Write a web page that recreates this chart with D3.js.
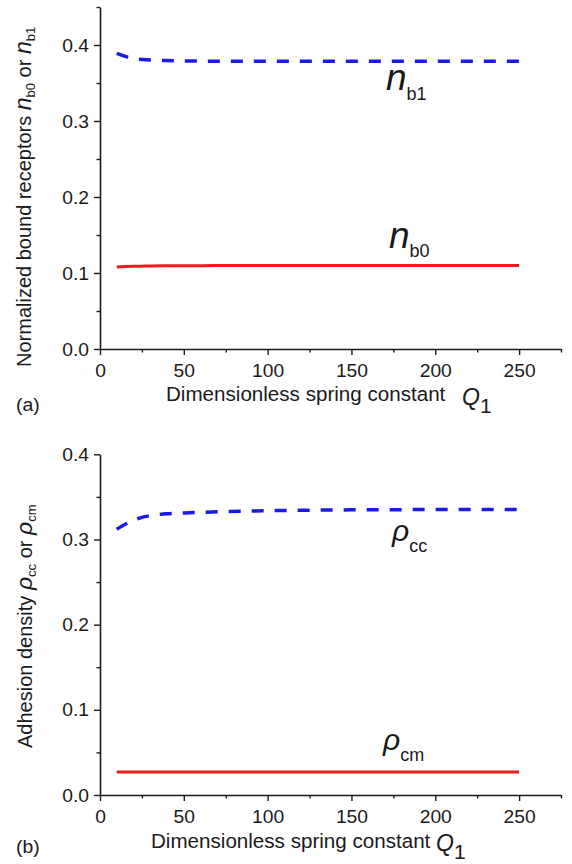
<!DOCTYPE html>
<html>
<head>
<meta charset="utf-8">
<script src="https://cdn.jsdelivr.net/npm/d3@7/dist/d3.min.js"></script>
<style>
  html, body { margin: 0; padding: 0; background: #fff; }
  svg { display: block; }
  text { fill: #1a1a1a; }
</style>
</head>
<body>
<svg id="chart" width="572" height="864"></svg>
<script>
// Dimensionless spring constant Q1 at which the model was evaluated
const springQ = [10, 15, 20, 25, 30, 40, 50, 60, 75, 100, 125, 150, 175, 200, 225, 250];

// (a) normalized bound receptors
const nb1 = [0.389, 0.385, 0.382, 0.381, 0.3802, 0.3795, 0.379, 0.3788, 0.3786, 0.3785, 0.3785, 0.3785, 0.3785, 0.3785, 0.3785, 0.3785];
const nb0 = [0.108, 0.1085, 0.1088, 0.109, 0.1092, 0.1094, 0.1095, 0.1096, 0.1098, 0.1099, 0.11, 0.11, 0.11, 0.11, 0.11, 0.11];

// (b) adhesion density
const rhoCC = [0.312, 0.3178, 0.3225, 0.326, 0.328, 0.3302, 0.3311, 0.3318, 0.3328, 0.3338, 0.3344, 0.3348, 0.335, 0.3352, 0.3353, 0.3353];
const rhoCM = [0.027, 0.027, 0.027, 0.027, 0.027, 0.027, 0.027, 0.027, 0.027, 0.027, 0.027, 0.027, 0.027, 0.027, 0.027, 0.027];

// axis ticks
const xMajor = [0, 50, 100, 150, 200, 250];
const xMinor = [25, 75, 125, 175, 225, 275];
const yMajor = [0, 0.1, 0.2, 0.3, 0.4];
const yMinorA = [0.05, 0.15, 0.25, 0.35, 0.45];
const yMinorB = [0.05, 0.15, 0.25, 0.35];

const FONT = "Arial, 'Liberation Sans', Helvetica, sans-serif";
const TICK_SX = 1.1;      // slight horizontal stretch of the tick lettering
const BLUE = "#1a1ae6";
const RED = "#ee1c1c";
const INK = "#1a1a1a";

const svg = d3.select("#chart");

// rich text: an array of runs {t, size, italic, dy}
function richText(parent, x, y, runs, opts = {}) {
  const sx = opts.sx == null ? 1 : opts.sx;
  let tf = `translate(${x},${y}) scale(${sx},1)`;
  if (opts.rotate) tf += ` rotate(${opts.rotate})`;
  const g = parent.append("g").attr("transform", tf);
  const t = g.append("text")
    .attr("font-family", FONT)
    .attr("text-anchor", opts.anchor || "start");
  let shift = 0;
  runs.forEach(r => {
    const dy = (r.dy || 0) - shift;
    shift = r.dy || 0;
    t.append("tspan")
      .attr("dy", dy)
      .attr("font-size", r.size)
      .attr("font-style", r.italic ? "italic" : "normal")
      .text(r.t);
  });
  return g;
}

function panel(cfg) {
  const x = d3.scaleLinear().domain([0, 275]).range([100, 561]);
  const y = d3.scaleLinear().domain([0, cfg.yTop]).range(cfg.yRange);
  const g = svg.append("g");

  // minor ticks
  g.append("g").attr("transform", `translate(0,${y(0)})`)
    .call(d3.axisBottom(x).tickValues(xMinor).tickSize(3.5).tickSizeOuter(0).tickFormat(""))
    .call(a => a.select(".domain").remove());
  g.append("g").attr("transform", `translate(${x(0)},0)`)
    .call(d3.axisLeft(y).tickValues(cfg.yMinor).tickSize(3.5).tickSizeOuter(0).tickFormat(""))
    .call(a => a.select(".domain").remove());

  // major ticks + labels
  const xa = g.append("g").attr("transform", `translate(0,${y(0)})`)
    .call(d3.axisBottom(x).tickValues(xMajor).tickSize(6).tickSizeOuter(0).tickFormat(d3.format("d")));
  xa.selectAll("text").attr("y", 0).attr("dy", 0)
    .attr("transform", `translate(0,28) scale(${TICK_SX},1)`);
  const ya = g.append("g").attr("transform", `translate(${x(0)},0)`)
    .call(d3.axisLeft(y).tickValues(yMajor).tickSize(6).tickSizeOuter(0).tickFormat(d3.format(".1f")));
  ya.selectAll("text").attr("x", 0).attr("dy", 0)
    .attr("transform", `translate(-11,6) scale(${TICK_SX},1)`);

  g.selectAll(".tick text").attr("font-size", 17.5).attr("font-family", FONT).attr("fill", INK);
  g.selectAll(".tick line").attr("stroke", INK).attr("stroke-width", 1.4);
  g.selectAll(".domain").attr("stroke", INK).attr("stroke-width", 1.6);

  // curves
  const line = vals => d3.line()
    .x((d, i) => x(springQ[i]))
    .y(d => y(d))
    .curve(d3.curveMonotoneX)(vals);
  g.append("path").attr("d", line(cfg.solid))
    .attr("fill", "none").attr("stroke", RED).attr("stroke-width", 3);
  g.append("path").attr("d", line(cfg.dashed))
    .attr("fill", "none").attr("stroke", BLUE).attr("stroke-width", 3.5)
    .attr("stroke-dasharray", "12,11");

  // curve labels
  cfg.labels.forEach(l => {
    richText(g, l.x, l.y, [
      { t: l.sym, size: l.symSize, italic: true },
      { t: l.sub, size: 18, dy: l.subDy }
    ]);
  });

  // x-axis title with the Q1 symbol
  richText(g, cfg.xTitle[0], cfg.xTitle[1],
    [{ t: "Dimensionless spring constant", size: 20 }], { sx: 1.03 });
  richText(g, cfg.qPos[0], cfg.qPos[1], [
    { t: "Q", size: 23, italic: true },
    { t: "1", size: 21, dy: 8 }
  ]);

  // y-axis title (reads bottom to top)
  richText(g, cfg.yTitle[0], cfg.yTitle[1], cfg.yRuns, { rotate: -90 });

  // panel letter
  richText(g, 16, cfg.letterY, [{ t: cfg.letter, size: 18.5 }], { sx: 1.05 });
}

panel({
  yTop: 0.45, yRange: [349, 7], yMinor: yMinorA,
  solid: nb0, dashed: nb1,
  labels: [
    { sym: "n", sub: "b1", x: 386, y: 90, symSize: 37, subDy: 10 },
    { sym: "n", sub: "b0", x: 389, y: 248, symSize: 37, subDy: 9 }
  ],
  xTitle: [166, 401], qPos: [462, 405],
  yTitle: [31, 367],
  yRuns: [
    { t: "Normalized bound receptors ", size: 20 },
    { t: "n", size: 23, italic: true },
    { t: "b0", size: 13, dy: 4 },
    { t: " or ", size: 20 },
    { t: "n", size: 23, italic: true },
    { t: "b1", size: 13, dy: 4 }
  ],
  letter: "(a)", letterY: 411
});

panel({
  yTop: 0.4, yRange: [795, 454.3], yMinor: yMinorB,
  solid: rhoCM, dashed: rhoCC,
  labels: [
    { sym: "\u03c1", sub: "cc", x: 392, y: 541, symSize: 30, subDy: 11 },
    { sym: "\u03c1", sub: "cm", x: 383, y: 750, symSize: 30, subDy: 11 }
  ],
  xTitle: [151, 848], qPos: [436, 851],
  yTitle: [32, 748],
  yRuns: [
    { t: "Adhesion density ", size: 20 },
    { t: "\u03c1", size: 23, italic: true },
    { t: "cc", size: 13, dy: 4 },
    { t: " or ", size: 20 },
    { t: "\u03c1", size: 23, italic: true },
    { t: "cm", size: 13, dy: 4 }
  ],
  letter: "(b)", letterY: 853
});
</script>
</body>
</html>
